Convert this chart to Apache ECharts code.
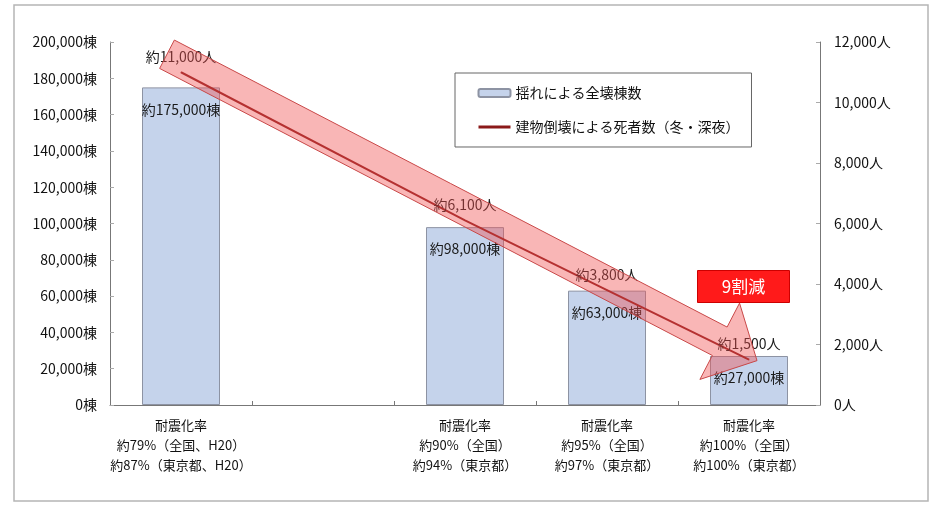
<!DOCTYPE html>
<html><head><meta charset="utf-8">
<script src="https://cdn.jsdelivr.net/npm/echarts@6/dist/echarts.min.js"></script>
<style>html,body{margin:0;padding:0;background:#fff}#c{width:932px;height:506px}</style>
</head><body><div id="c"></div>
<script>
const categories = [
  '耐震化率\n約79%（全国、H20）\n約87%（東京都、H20）',
  '',
  '耐震化率\n約90%（全国）\n約94%（東京都）',
  '耐震化率\n約95%（全国）\n約97%（東京都）',
  '耐震化率\n約100%（全国）\n約100%（東京都）'
];
const buildings = [175000, null, 98000, 63000, 27000];
const deaths = [11000, null, 6100, 3800, 1500];
const seriesNames = ['揺れによる全壊棟数', '建物倒壊による死者数（冬・深夜）'];
const badgeText = '9割減';

const FONT = '"Noto Sans CJK JP", "Noto Sans", sans-serif';
const fmt = v => v.toLocaleString('en-US');

const chart = echarts.init(document.getElementById('c'));
chart.setOption({
  animation: false,
  textStyle: { fontFamily: FONT },
  grid: { left: 110, right: 112, top: 42, bottom: 101 },
  legend: {
    orient: 'vertical', left: 455, top: 73,
    padding: [13, 12, 13, 22], itemGap: 20,
    borderColor: '#666', borderWidth: 1,
    itemWidth: 32, itemHeight: 8,
    textStyle: { fontSize: 14, color: '#111', fontFamily: FONT },
    data: [
      { name: seriesNames[0], icon: 'roundRect' },
      { name: seriesNames[1], lineStyle: { width: 3 }, itemStyle: { opacity: 0 } }
    ]
  },
  xAxis: {
    type: 'category', data: categories,
    axisLine: { lineStyle: { color: '#777' } },
    axisTick: { show: true, length: 4, inside: true, lineStyle: { color: '#777' } },
    axisLabel: { color: '#111', fontSize: 13, lineHeight: 20, margin: 10, interval: 0 }
  },
  yAxis: [
    {
      type: 'value', min: 0, max: 200000, interval: 20000,
      splitLine: { show: false },
      axisLine: { show: true, lineStyle: { color: '#777' } },
      axisTick: { show: true, inside: true, length: 4, lineStyle: { color: '#aaa' } },
      axisLabel: { color: '#111', fontSize: 14, margin: 13, formatter: v => fmt(v) + '棟' }
    },
    {
      type: 'value', min: 0, max: 12000, interval: 2000,
      splitLine: { show: false },
      axisLine: { show: true, lineStyle: { color: '#777' } },
      axisTick: { show: true, inside: true, length: 4, lineStyle: { color: '#aaa' } },
      axisLabel: { color: '#111', fontSize: 14, margin: 14, formatter: v => fmt(v) + '人' }
    }
  ],
  series: [
    {
      name: seriesNames[0], type: 'bar', yAxisIndex: 0, data: buildings,
      barWidth: 78,
      itemStyle: { color: '#c5d3eb', borderColor: '#8d93a3', borderWidth: 1 },
      label: {
        show: true, position: 'insideTop', distance: 15,
        color: '#1a1a1a', fontSize: 14,
        formatter: p => '約' + fmt(p.value) + '棟'
      }
    },
    {
      name: seriesNames[1], type: 'line', yAxisIndex: 1, data: deaths,
      connectNulls: true, symbol: 'circle', symbolSize: 1, showSymbol: true,
      lineStyle: { color: '#8b1a1a', width: 2 },
      itemStyle: { color: '#8b1a1a' },
      label: {
        show: true, position: 'top', distance: 8,
        color: '#1a1a1a', fontSize: 14,
        formatter: p => '約' + fmt(p.value) + '人'
      },
      z: 3
    }
  ]
});

function drawDecor() {
  const idx = deaths.map((v, i) => v == null ? -1 : i).filter(i => i >= 0);
  const i0 = idx[0], i1 = idx[idx.length - 1];
  const p0 = chart.convertToPixel({ seriesIndex: 1 }, [i0, deaths[i0]]);
  const p1 = chart.convertToPixel({ seriesIndex: 1 }, [i1, deaths[i1]]);
  const T = [p0[0] - 14, p0[1] - 18];
  const P = [p1[0] + 8, p1[1] + 1];
  const dx = P[0] - T[0], dy = P[1] - T[1];
  const len = Math.hypot(dx, dy);
  const d = [dx / len, dy / len];
  const n = [-d[1], d[0]];
  const w = 16, H = 43, L = 42;
  const B = [P[0] - d[0] * L, P[1] - d[1] * L];
  const pt = (base, k) => [base[0] + n[0] * k, base[1] + n[1] * k];
  const points = [pt(T, w), pt(B, w), pt(B, H), P, pt(B, -H), pt(B, -w), pt(T, -w)];
  chart.setOption({
    graphic: [
      {
        type: 'rect', silent: true, z: 0,
        shape: { x: 14, y: 5, width: 914, height: 496 },
        style: { fill: 'none', stroke: '#b5b5b5', lineWidth: 1.5 }
      },
      {
        type: 'polygon', silent: true, z: 100,
        shape: { points: points },
        style: { fill: 'rgba(240,80,80,0.42)', stroke: '#c84848', lineWidth: 1 }
      },
      {
        type: 'group', left: 697, top: 270, z: 110,
        children: [
          { type: 'rect', shape: { x: 0, y: 0, width: 92, height: 32 },
            style: { fill: '#ff1a1a', stroke: '#c00', lineWidth: 1 } },
          { type: 'text', x: 46, y: 16,
            style: { text: badgeText, fill: '#fff', fontSize: 17, fontFamily: FONT,
                     align: 'center', verticalAlign: 'middle' } }
        ]
      }
    ]
  });
}
drawDecor();
</script>
</body></html>
